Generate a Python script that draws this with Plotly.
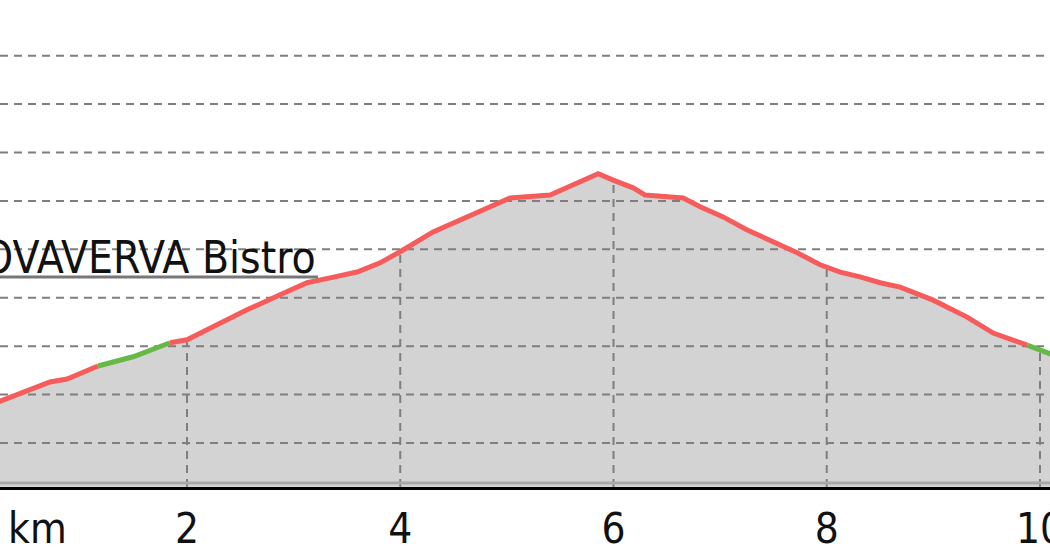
import numpy as np
import plotly.graph_objects as go

# elevation profile (km, m)
distance_km = [
    0.22, 0.715, 0.875, 1.165, 1.494, 1.841, 2.000, 2.244, 2.563, 2.873,
    3.126, 3.342, 3.595, 3.811, 3.999, 4.308, 4.777, 5.030, 5.406, 5.621,
    5.856, 5.997, 6.184, 6.297, 6.653, 6.813, 7.028, 7.254, 7.497, 7.723,
    7.938, 8.126, 8.313, 8.501, 8.689, 8.998, 9.317, 9.561, 9.880, 10.12,
]
elevation_m = [
    1184, 1226, 1232, 1259, 1278, 1307, 1313, 1340, 1375, 1406,
    1431, 1441, 1453, 1472, 1495, 1536, 1581, 1606, 1612, 1633,
    1656, 1643, 1627, 1612, 1606, 1588, 1567, 1540, 1515, 1493,
    1468, 1453, 1443, 1431, 1422, 1395, 1360, 1327, 1302, 1282,
]
# surface of the segment that starts at each point ("a" = red, "b" = green)
surface = [
    "a", "a", "a", "b", "b", "a", "a", "a", "a", "a",
    "a", "a", "a", "a", "a", "a", "a", "a", "a", "a",
    "a", "a", "a", "a", "a", "a", "a", "a", "a", "a",
    "a", "a", "a", "a", "a", "a", "a", "a", "b", "b",
]

x_ticks = [2, 4, 6, 8, 10]
y_grid = [1100, 1200, 1300, 1400, 1500, 1600, 1700, 1800, 1900]

x_range = [0.246, 10.094]
y_range = [1009, 2015]

surface_colors = {"a": "#f65c5c", "b": "#66b847"}
grid_color = "#7f7f7f"
FONT = "DejaVu Sans Condensed, Liberation Sans Narrow, DejaVu Sans"

fig = go.Figure()

# grey area under the profile
fig.add_trace(
    go.Scatter(
        x=distance_km,
        y=elevation_m,
        mode="lines",
        line=dict(width=0),
        fill="tozeroy",
        fillcolor="#d3d3d3",
        hoverinfo="skip",
    )
)

# horizontal grid drawn on top of the fill
hx, hy = [], []
for v in y_grid:
    hx += [x_range[0], x_range[1], None]
    hy += [v, v, None]
fig.add_trace(
    go.Scatter(
        x=hx, y=hy, mode="lines",
        line=dict(color=grid_color, width=2, dash="8px,6px"),
        hoverinfo="skip",
    )
)

# vertical grid only below the profile
tops = np.interp(x_ticks, distance_km, elevation_m)
vx, vy = [], []
for xt, top in zip(x_ticks, tops):
    vx += [xt, xt, None]
    vy += [y_range[0], top, None]
fig.add_trace(
    go.Scatter(
        x=vx, y=vy, mode="lines",
        line=dict(color=grid_color, width=2, dash="8px,6px"),
        hoverinfo="skip",
    )
)

# profile line, split by surface
start = 0
for i in range(1, len(distance_km)):
    if i == len(distance_km) - 1 or surface[i] != surface[start]:
        fig.add_trace(
            go.Scatter(
                x=distance_km[start:i + 1],
                y=elevation_m[start:i + 1],
                mode="lines",
                line=dict(color=surface_colors[surface[start]], width=5),
                hoverinfo="skip",
            )
        )
        start = i

fig.add_annotation(
    text="OVAVERVA Bistro",
    xref="paper", yref="paper",
    x=318 / 1050, y=0.472,
    xanchor="right", yanchor="middle",
    showarrow=False,
    font=dict(family=FONT, size=44, color="#111111"),
)
fig.add_shape(
    type="line", xref="paper", yref="paper",
    x0=0, x1=318 / 1050, y0=0.431, y1=0.431,
    line=dict(color="#777777", width=3),
)
fig.add_annotation(
    text="km",
    xref="paper", yref="paper",
    x=0.006, y=-0.086,
    xanchor="left", yanchor="middle",
    showarrow=False,
    font=dict(family=FONT, size=42, color="#111111"),
)
# grey band just above the black base line
fig.add_shape(
    type="line", xref="paper", yref="paper",
    x0=0, x1=1, y0=0.008, y1=0.008,
    line=dict(color="#a9a9a9", width=3),
)

fig.update_layout(
    width=1050,
    height=560,
    margin=dict(l=0, r=0, t=0, b=73, pad=0, autoexpand=False),
    paper_bgcolor="white",
    plot_bgcolor="white",
    showlegend=False,
    xaxis=dict(
        range=x_range,
        tickvals=x_ticks,
        ticktext=[str(t) for t in x_ticks],
        showgrid=False,
        zeroline=False,
        showline=True,
        linecolor="black",
        linewidth=3,
        ticks="",
        ticklabelstandoff=3,
        ticklabeloverflow="allow",
        tickfont=dict(family=FONT, size=42, color="#111111"),
    ),
    yaxis=dict(
        range=y_range,
        showgrid=False,
        zeroline=False,
        showticklabels=False,
        showline=False,
    ),
)

# the page body has a default 8px margin; drop it so the figure sits at 0,0
fig.write_html(
    "out.html",
    config={"displayModeBar": False},
    post_script="document.body.style.margin='0';",
)
